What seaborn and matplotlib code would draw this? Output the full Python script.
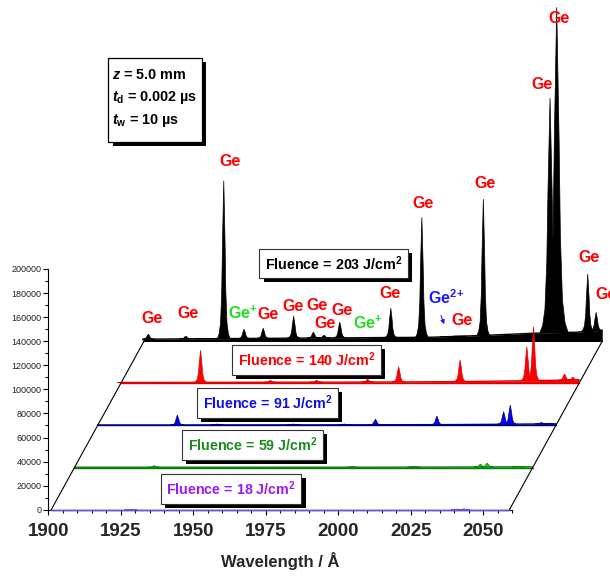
import matplotlib
matplotlib.use("Agg")
import matplotlib.pyplot as plt
import matplotlib.patheffects as pe
from matplotlib.patches import Rectangle
from matplotlib.ticker import MultipleLocator
import numpy as np
import pandas as pd
import seaborn as sns


# Each spectrum is drawn shifted right and up from the one in front of it.
SHIFT_WL = 8.0
SHIFT_COUNTS = 35000
WL_START = 1901.0
WL_END = 2059.0

fluences = [18, 59, 91, 140, 203]
line_colors = ["#7050d0", "#0a7a0a", "#00007f", "#e00000", "black"]
fill_colors = ["#9b59e6", "#00e000", "#0000ff", "#ff0000", "black"]
text_colors = ["#9a1cf5", "#1d8a1d", "#1010e8", "#ff0000", "black"]

# noise floor of each spectrum, read at a few wavelengths (counts)
floor_wl = [1901, 1925, 1950, 1975, 2000, 2020, 2035, 2050, 2059]
floor_18 = [0, 0, 0, 0, 0, 0, 0, 0, 0]
floor_59 = [300, 300, 300, 300, 300, 400, 500, 600, 600]
floor_91 = [400, 400, 500, 500, 600, 700, 900, 1200, 1200]
floor_140 = [700, 800, 900, 1000, 1200, 1500, 2000, 2500, 2800]
floor_203 = [1700, 2100, 2500, 2900, 3300, 5000, 6600, 7500, 9100]

# line positions (Å, unshifted) and peak heights above the baseline (counts)
peaks_18_wl = [1928.5, 2041.0, 2043.3]
peaks_18_h = [400, 600, 800]
peaks_59_wl = [1928.5, 1996.8, 2018.0, 2041.0, 2043.3, 2054.0]
peaks_59_h = [1700, 1200, 1200, 2900, 3700, 1200]
peaks_91_wl = [1928.5, 1942.1, 1968.5, 1986.1, 1996.8, 2018.0, 2041.0, 2043.3, 2054.0, 2056.9]
peaks_91_h = [8700, 1200, 1200, 1200, 5200, 7800, 11500, 17000, 2500, 1500]
peaks_140_wl = [1902.0, 1928.5, 1952.6, 1968.5, 1986.1, 1996.8, 2018.0, 2041.0, 2043.3, 2054.0, 2056.9]
peaks_140_h = [1000, 27400, 2500, 2500, 3300, 13800, 19400, 30400, 47000, 7700, 5000]
peaks_203_wl = [1902.5, 1915.4, 1920.9, 1928.5, 1935.5, 1942.1, 1952.6, 1959.4, 1963.1,
                1968.5, 1986.1, 1996.8, 2005.4, 2010.0, 2018.0, 2041.0, 2043.3, 2054.0, 2056.9]
peaks_203_h = [5800, 4200, 2500, 133400, 10000, 10800, 20800, 7500, 5000,
               15800, 27400, 102900, 3300, 4200, 118000, 202000, 277400, 55800, 23900]
peaks_203_width = [1, 1, 1, 1, 1, 1, 1, 1, 1, 1, 1, 1, 1, 1, 1, 1.6, 1.8, 1, 1]

# line identifications on the 203 J/cm2 spectrum (plot coordinates)
ion_text = ["Ge", "Ge", "Ge$^{+}$", "Ge", "Ge", "Ge", "Ge", "Ge", "Ge$^{+}$", "Ge",
            r"Ge$^{2\!+}$", "Ge", "Ge", "Ge", "Ge", "Ge", "Ge", "Ge", "Ge"]
ion_x = [1935.7, 1948.3, 1966.9, 1975.6, 1984.5, 1992.7, 2001.2, 1995.4, 2010.2, 2017.9,
         2037.0, 2042.7, 2029.1, 2050.7, 2070.3, 2076.1, 2086.3, 2092.3, 1962.8]
ion_y = [159000, 163200, 163200, 161800, 168700, 169300, 165900, 154900, 154900, 179800,
         176500, 157600, 254600, 271200, 352900, 408300, 209700, 178400, 288900]
ion_colors = ["#ff0000", "#ff0000", "#22dd22", "#ff0000", "#ff0000", "#ff0000", "#ff0000",
              "#ff0000", "#22dd22", "#ff0000", "#1a1aff", "#ff0000", "#ff0000", "#ff0000",
              "#ff0000", "#ff0000", "#ff0000", "#ff0000", "#ff0000"]

fluence_label_x = [1963.0, 1970.4, 1975.6, 1989.0, 1998.4]
fluence_label_y = [17200, 53800, 88700, 124400, 204700]

# peak outline: fraction of height vs half width (Å)
PEAK_LEVELS = [0.0, 0.03, 0.1, 0.3, 0.6, 1.0]
PEAK_HALF = [2.2, 1.6, 1.1, 0.7, 0.45, 0.0]

floors = [floor_18, floor_59, floor_91, floor_140, floor_203]
peak_wls = [peaks_18_wl, peaks_59_wl, peaks_91_wl, peaks_140_wl, peaks_203_wl]
peak_hs = [peaks_18_h, peaks_59_h, peaks_91_h, peaks_140_h, peaks_203_h]
peak_widths = [[1] * len(peaks_18_wl), [1] * len(peaks_59_wl), [1] * len(peaks_91_wl),
               [1] * len(peaks_140_wl), peaks_203_width]

sns.set_theme(style="ticks")
plt.rcParams["font.family"] = ["Liberation Sans", "DejaVu Sans"]
plt.rcParams["mathtext.fontset"] = "custom"
plt.rcParams["mathtext.rm"] = "Liberation Sans:bold"
plt.rcParams["mathtext.bf"] = "Liberation Sans:bold"
plt.rcParams["mathtext.it"] = "Liberation Sans:italic:bold"

fig = plt.figure(figsize=(6.1, 5.77), dpi=100)
ax = fig.add_axes([0.0792, 0.1166, 0.7607, 0.4172])

shadow = [pe.SimplePatchShadow(offset=(3, -3), shadow_rgbFace="black", alpha=1.0), pe.Normal()]

lev = np.array(PEAK_LEVELS)
lev2 = np.concatenate([lev, lev[::-1]])

# back to front so the low fluence traces sit on top
for k in range(len(fluences) - 1, -1, -1):
    dx = SHIFT_WL * k
    base = SHIFT_COUNTS * k
    z = 2 + (len(fluences) - k)
    wl = np.array(floor_wl) + dx
    top = base + np.array(floors[k])
    ax.fill_between(wl, base, top, color=fill_colors[k], lw=0, zorder=z, clip_on=False)
    trace = pd.DataFrame({"wl": wl, "counts": top})
    sns.lineplot(data=trace, x="wl", y="counts", estimator=None, color=line_colors[k],
                 lw=1.0, ax=ax, zorder=z, clip_on=False)
    ax.plot([WL_START + dx, WL_END + dx], [base, base], color=line_colors[k],
            lw=1.4 if k == 4 else 1.0, zorder=z, clip_on=False)
    for c, h, w in zip(peak_wls[k], peak_hs[k], peak_widths[k]):
        floor_here = np.interp(c, floor_wl, floors[k])
        half = np.array(PEAK_HALF) * w
        xs = np.concatenate([c - half, (c + half)[::-1]]) + dx
        ys = base + lev2 * h + floor_here * (1 - lev2)
        ax.fill(xs, ys, facecolor=fill_colors[k], edgecolor=line_colors[k], lw=0.5,
                zorder=z, clip_on=False)

# slanted frame joining the ends of the stacked traces
frame = pd.DataFrame({
    "start": [WL_START + SHIFT_WL * k for k in range(len(fluences))],
    "end": [WL_END + SHIFT_WL * k for k in range(len(fluences))],
    "counts": [SHIFT_COUNTS * k for k in range(len(fluences))],
})
for col in ["start", "end"]:
    sns.lineplot(data=frame, x=col, y="counts", estimator=None, sort=False,
                 color="black", lw=0.8, ax=ax, zorder=9, clip_on=False)

for k, f in enumerate(fluences):
    t = ax.text(fluence_label_x[k], fluence_label_y[k], f"Fluence = {f} J/cm$^2$",
                ha="center", va="center", fontsize=10.3, fontweight="bold",
                color=text_colors[k], zorder=12,
                bbox=dict(boxstyle="square,pad=0.38", fc="white", ec="#333333", lw=0.8))
    t.get_bbox_patch().set_path_effects(shadow)

for s, x, y, c in zip(ion_text, ion_x, ion_y, ion_colors):
    ax.text(x, y, s, ha="center", va="center", fontsize=11.5, fontweight="bold",
            color=c, zorder=13, clip_on=False)

ax.annotate("", xy=(2036.8, 151900), xytext=(2035.1, 163500),
            arrowprops=dict(arrowstyle="-|>", color="#1a1aff", lw=0.8, mutation_scale=6),
            zorder=13)

box = Rectangle((1920.7, 305800), 32.2, 69300, fc="white", ec="black", lw=0.9,
                clip_on=False, zorder=12)
box.set_path_effects(shadow)
ax.add_patch(box)
for s, y in zip([r"$z$ = 5.0 mm", r"$t_\mathrm{d}$ = 0.002 µs", r"$t_\mathrm{w}$ = 10 µs"],
                [361200, 342100, 323000]):
    ax.text(1922.0, y, s, ha="left", va="center", fontsize=10.4, fontweight="bold",
            color="black", zorder=13)

ax.set_xlim(1900, 2060)
ax.set_ylim(0, 200000)
ax.xaxis.set_major_locator(MultipleLocator(25))
ax.xaxis.set_minor_locator(MultipleLocator(5))
ax.yaxis.set_major_locator(MultipleLocator(20000))
ax.yaxis.set_minor_locator(MultipleLocator(10000))
ax.tick_params(axis="x", which="major", length=3.5, width=0.8, pad=6,
               labelsize=13.5, color="black")
ax.tick_params(axis="x", which="minor", length=2.5, width=0.8, color="black")
ax.tick_params(axis="y", which="major", length=3.5, width=0.8, pad=1.5,
               labelsize=6.5, labelcolor="#222222", color="black")
ax.tick_params(axis="y", which="minor", length=2, width=0.8, color="black")
for lab in ax.get_xticklabels():
    lab.set_fontweight("bold")
sns.despine(ax=ax)
for side in ["left", "bottom"]:
    ax.spines[side].set_linewidth(0.8)
    ax.spines[side].set_color("black")
ax.set_facecolor("none")
ax.set_xlabel("Wavelength / Å", fontsize=12, fontweight="bold", labelpad=9)
ax.set_ylabel("")

fig.savefig("out.png", dpi=100)
